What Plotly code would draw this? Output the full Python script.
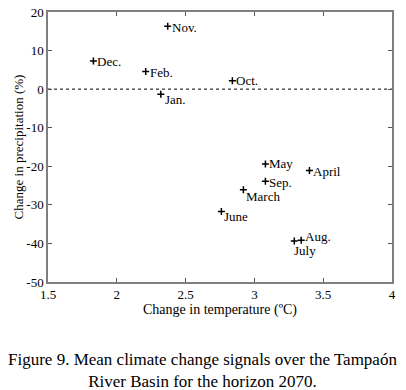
import plotly.graph_objects as go

months = ["Nov.", "Dec.", "Feb.", "Jan.", "Oct.", "May", "April", "Sep.", "March", "June", "July", "Aug."]
temp_change = [2.37, 1.83, 2.21, 2.32, 2.84, 3.08, 3.40, 3.08, 2.92, 2.76, 3.29, 3.34]
precip_change = [16.3, 7.3, 4.6, -1.3, 2.2, -19.4, -21.1, -23.9, -26.1, -31.7, -39.4, -39.2]

x_ticks = [1.5, 2, 2.5, 3, 3.5, 4]
x_tick_text = ["1.5", "2", "2.5", "3", "3.5", "4"]
y_ticks = [20, 10, 0, -10, -20, -30, -40, -50]
y_tick_text = ["20", "10", "0", "-10", "-20", "-30", "-40", "-50"]

# label offsets in pixels (xshift, yshift) relative to each marker
label_offsets = {
    "Nov.": (2, -1), "Dec.": (2, -1), "Feb.": (2, -1), "Jan.": (2, -5),
    "Oct.": (2, 0), "May": (2, 0), "April": (2, -1), "Sep.": (2, -1),
    "March": (1, -7), "June": (1, -5), "July": (-2, -9), "Aug.": (2, 4),
}

font_family = "Liberation Serif"

fig = go.Figure()
fig.add_trace(go.Scatter(
    x=[1.5, 4], y=[0, 0], mode="lines",
    line=dict(color="black", width=1, dash="dot"),
    hoverinfo="skip", showlegend=False,
))
fig.add_trace(go.Scatter(
    x=temp_change, y=precip_change, mode="markers",
    marker=dict(symbol="cross-thin", size=5, line=dict(color="black", width=1.5), color="black"),
    showlegend=False,
))
for m, xv, yv in zip(months, temp_change, precip_change):
    dx, dy = label_offsets[m]
    fig.add_annotation(
        x=xv, y=yv, text=m, showarrow=False, xanchor="left", yanchor="middle",
        xshift=dx, yshift=dy,
        font=dict(family=font_family, size=13, color="black"),
    )

axis_common = dict(
    showgrid=False, zeroline=False, showline=True, mirror="ticks",
    linecolor="#7f7f7f", linewidth=1.5, ticks="inside", ticklen=4,
    tickcolor="#555555", tickfont=dict(family=font_family, size=13, color="black"),
    automargin=False, ticklabeloverflow="allow",
)
fig.update_xaxes(range=[1.5, 4], tickvals=x_ticks, ticktext=x_tick_text,
                 title=dict(text="Change in temperature (ºC)", standoff=1,
                            font=dict(family=font_family, size=14, color="black")),
                 **axis_common)
fig.update_yaxes(range=[-50, 20], tickvals=y_ticks, ticktext=y_tick_text,
                 title=dict(text="Change in precipitation (%)", standoff=0,
                            font=dict(family=font_family, size=13, color="black")),
                 **axis_common)

fig.add_annotation(
    text="Figure 9. Mean climate change signals over the Tampaón<br>River Basin for the horizon 2070.",
    xref="paper", yref="paper", x=0.45, y=-0.328, yanchor="middle", xanchor="center",
    showarrow=False, align="center",
    font=dict(family=font_family, size=17, color="black"),
)

fig.update_layout(
    width=406, height=390,
    margin=dict(l=48, r=14, t=12, b=108),
    plot_bgcolor="white", paper_bgcolor="white",
)
fig.write_html(
    "out.html",
    config={"displayModeBar": False},
    post_script="document.body.style.margin='0';document.body.style.overflow='hidden';",
)
